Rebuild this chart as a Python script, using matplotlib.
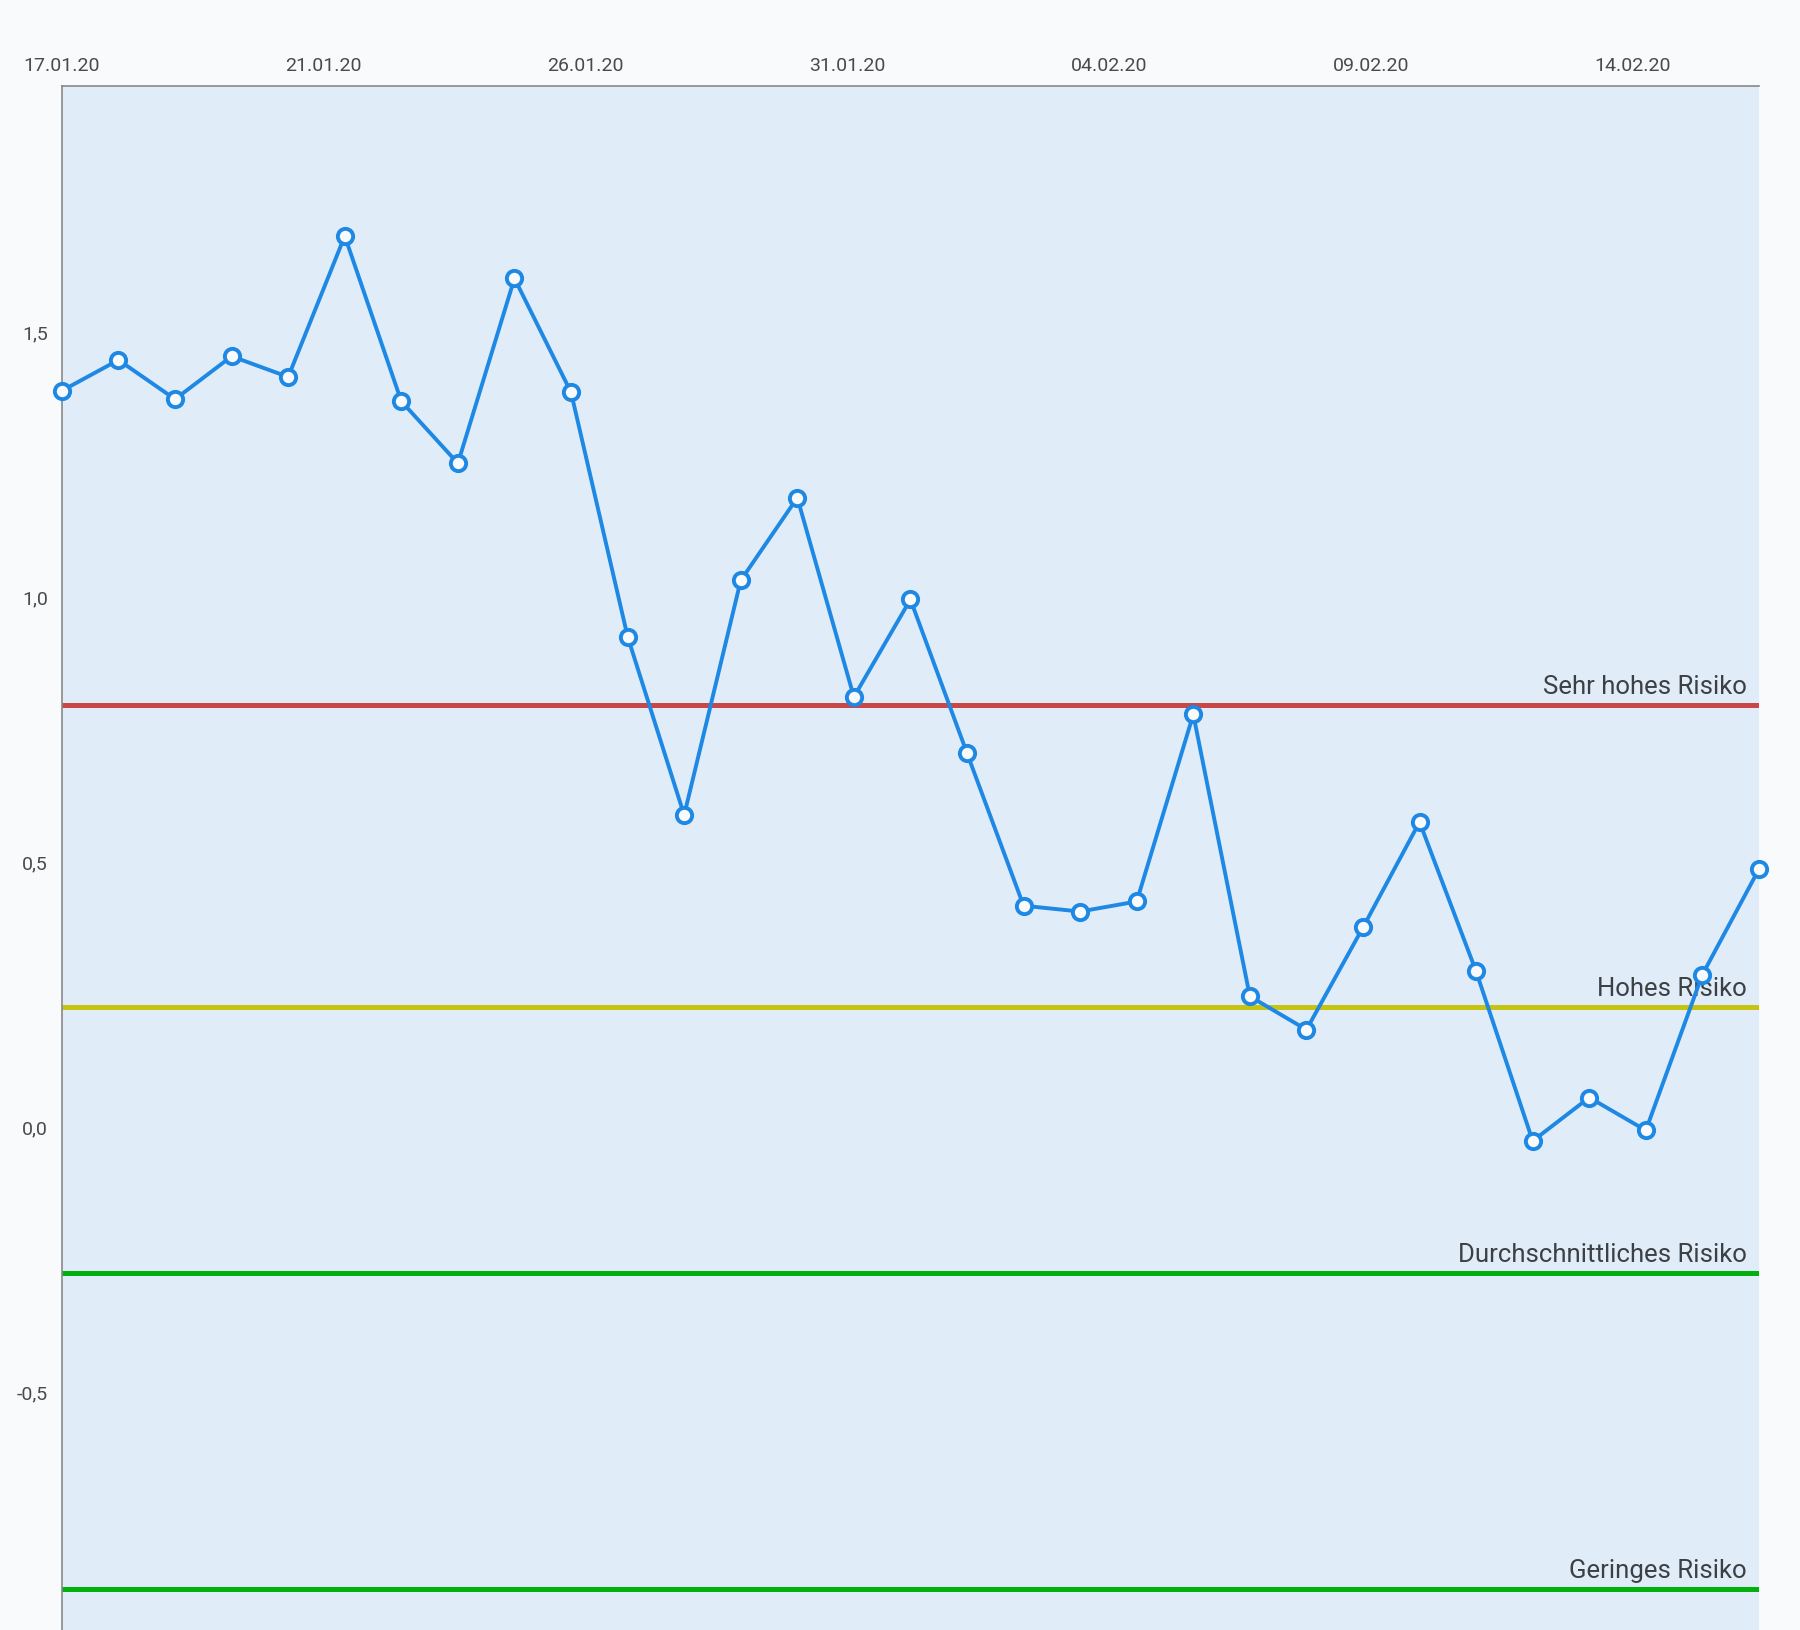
import numpy as np
import matplotlib.pyplot as plt

plt.rcParams['font.family'] = ['Roboto', 'DejaVu Sans']

# daily values 17.01.20 .. 16.02.20
values = [1.390, 1.448, 1.374, 1.455, 1.416, 1.682, 1.370, 1.253, 1.602, 1.387,
          0.926, 0.589, 1.032, 1.188, 0.812, 0.996, 0.706, 0.418, 0.407, 0.426,
          0.779, 0.247, 0.184, 0.377, 0.576, 0.294, -0.026, 0.056, -0.006, 0.288,
          0.487]
date_labels = ['17.01.20', '21.01.20', '26.01.20', '31.01.20', '04.02.20', '09.02.20', '14.02.20']
y_ticks = [-0.5, 0.0, 0.5, 1.0, 1.5]

risk_names = ['Sehr hohes Risiko', 'Hohes Risiko', 'Durchschnittliches Risiko', 'Geringes Risiko']
risk_levels = [0.797, 0.227, -0.275, -0.872]
risk_colors = ['#c94747', '#c6c411', '#00b10e', '#00b10e']

fig = plt.figure(figsize=(18, 16.3), dpi=100)
fig.patch.set_facecolor('#f8fafc')
ax = fig.add_axes([0.0344, 0.0, 0.9428, 0.9472])
ax.set_facecolor('#e0ecf8')

x = np.arange(len(values))
ax.set_xlim(0, len(values) - 1)
ax.set_ylim(-0.949, 1.965)

for name, lvl, col in zip(risk_names, risk_levels, risk_colors):
    ax.axhline(lvl, color=col, lw=3.6, zorder=2)
    ax.text(len(values) - 1.22, lvl + 0.012, name, ha='right', va='bottom',
            fontsize=18.5, color='#3c4043', zorder=3)

ax.plot(x, values, color='#1e88e5', lw=2.8, marker='o', markersize=11,
        markerfacecolor='#f8fafc', markeredgecolor='#1e88e5', markeredgewidth=2.8,
        zorder=4, clip_on=False)

# ticks are spread evenly across the axis, not on exact dates
tick_pos = np.linspace(0, 27.77, len(date_labels))
ax.xaxis.tick_top()
ax.set_xticks(tick_pos)
ax.set_xticklabels(date_labels)
ax.set_yticks(y_ticks)
ax.set_yticklabels([f'{v:.1f}'.replace('.', ',') for v in y_ticks])
ax.tick_params(axis='both', length=0, labelsize=14, labelcolor='#4a4a4a')
ax.tick_params(axis='x', pad=8)
ax.tick_params(axis='y', pad=10)

for s in ['right', 'bottom']:
    ax.spines[s].set_visible(False)
for s in ['left', 'top']:
    ax.spines[s].set_color('#888888')
    ax.spines[s].set_linewidth(1.2)

fig.savefig('out.png', dpi=100, facecolor=fig.get_facecolor())
